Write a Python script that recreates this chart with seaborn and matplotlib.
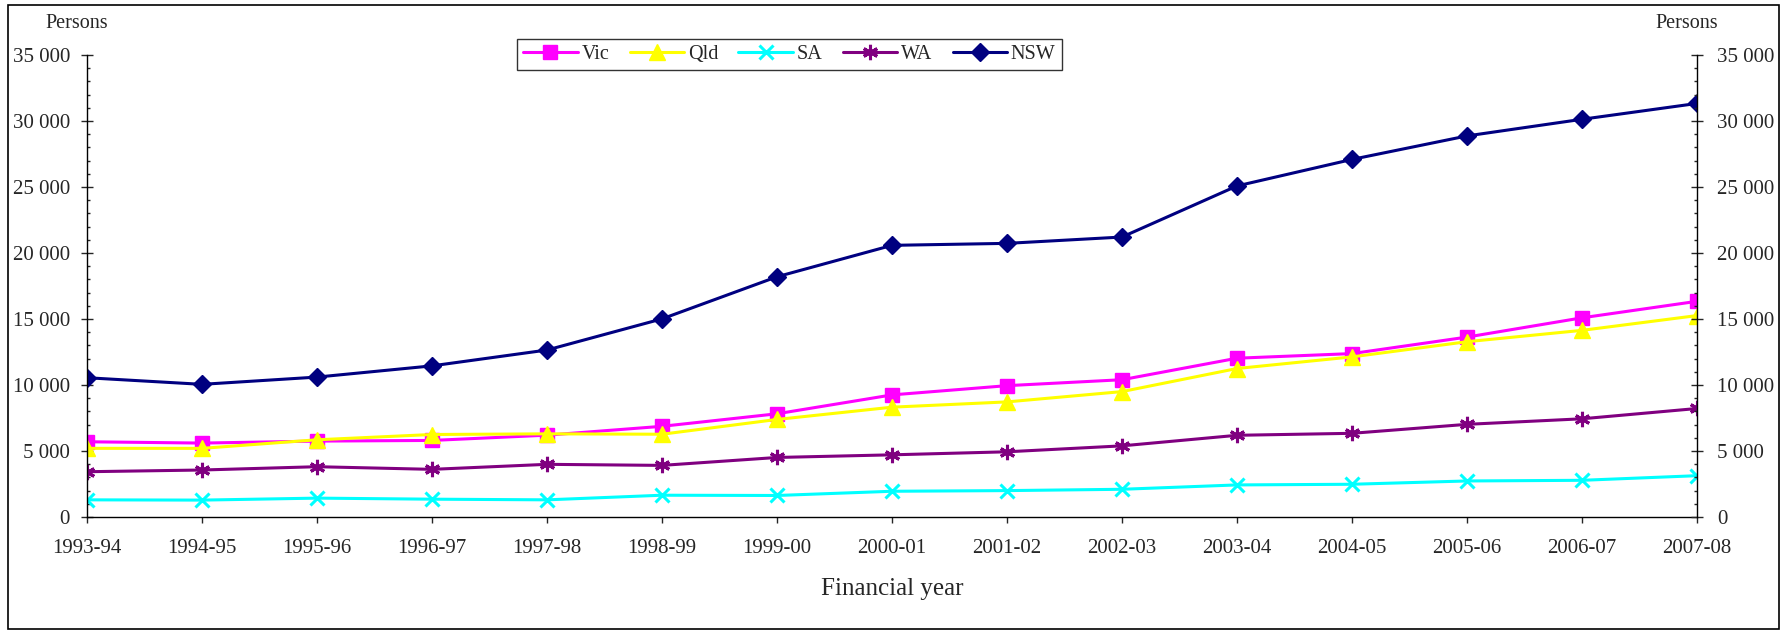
import pandas as pd
import numpy as np
import matplotlib.pyplot as plt
import seaborn as sns
from matplotlib.ticker import MultipleLocator, FuncFormatter
from matplotlib.patches import Rectangle

# data
years = ["1993-94", "1994-95", "1995-96", "1996-97", "1997-98", "1998-99", "1999-00",
         "2000-01", "2001-02", "2002-03", "2003-04", "2004-05", "2005-06", "2006-07", "2007-08"]
vic = [5700, 5600, 5750, 5800, 6200, 6870, 7820, 9250, 9950, 10400, 12030, 12380, 13630, 15090, 16340]
qld = [5200, 5200, 5850, 6250, 6300, 6270, 7390, 8320, 8720, 9500, 11250, 12130, 13280, 14140, 15260]
sa = [1300, 1280, 1430, 1350, 1300, 1650, 1630, 1950, 2000, 2100, 2430, 2480, 2730, 2780, 3130]
wa = [3430, 3560, 3810, 3610, 3990, 3910, 4510, 4710, 4940, 5390, 6190, 6340, 7020, 7440, 8220]
nsw = [10550, 10050, 10600, 11450, 12650, 15010, 18200, 20580, 20730, 21210, 25080, 27090, 28870, 30130, 31330]

states = ["Vic", "Qld", "SA", "WA", "NSW"]
colours = {"Vic": "#FF00FF", "Qld": "#FFFF00", "SA": "#00FFFF", "WA": "#800080", "NSW": "#000080"}
markers = {"Vic": "s", "Qld": "^", "SA": "x", "WA": (6, 2, 0), "NSW": "D"}
msizes = {"Vic": 10, "Qld": 11, "SA": 10, "WA": 11, "NSW": 9}

df = pd.DataFrame({"year": years, "Vic": vic, "Qld": qld, "SA": sa, "WA": wa, "NSW": nsw})
df["pos"] = np.arange(len(years))
long = df.melt(id_vars=["year", "pos"], value_vars=states, var_name="state", value_name="persons")

sns.set_style("ticks")
plt.rcParams["font.family"] = ["Liberation Serif", "DejaVu Serif"]
plt.rcParams["font.size"] = 15

fig = plt.figure(figsize=(17.85, 6.3), dpi=100)
ax = fig.add_axes([87 / 1785, 1 - 517 / 630, 1610 / 1785, 462 / 630])

sns.lineplot(data=long, x="pos", y="persons", hue="state", hue_order=states,
             palette=colours, linewidth=2.2, legend=False, ax=ax)

# markers set afterwards (seaborn refuses to mix filled and line-art markers)
for line, st in zip(ax.lines, states):
    line.set_marker(markers[st])
    line.set_markeredgecolor(colours[st])
    line.set_markerfacecolor(colours[st])
    line.set_markersize(msizes[st])
    line.set_markeredgewidth(2.2 if st in ("SA", "WA") else 1)
    line.set_label(st)

ax.set_xlim(0, len(years) - 1)
ax.set_ylim(0, 35000)
ax.set_xticks(df["pos"])
ax.set_xticklabels(years, fontsize=15)
ax.set_xlabel("Financial year", fontsize=18, va="center")
ax.xaxis.set_label_coords(0.5, -0.156)
ax.set_ylabel("")

fmt = FuncFormatter(lambda v, p: f"{int(v):,}".replace(",", " "))

ax2 = ax.twinx()
ax2.set_ylim(0, 35000)
for a in (ax, ax2):
    a.yaxis.set_major_locator(MultipleLocator(5000))
    a.yaxis.set_minor_locator(MultipleLocator(1000))
    a.yaxis.set_major_formatter(fmt)
    a.tick_params(axis="y", which="major", direction="inout", length=8.5, width=1, labelsize=15)
    a.tick_params(axis="y", which="minor", direction="in", length=2.5, width=1)
    a.spines["top"].set_visible(False)
    for s in a.spines.values():
        s.set_color("black")
        s.set_linewidth(1)
ax.tick_params(axis="y", pad=8)
ax2.tick_params(axis="y", pad=10)
ax.tick_params(axis="x", direction="out", length=4, width=1, pad=12)
ax.spines["right"].set_visible(False)
ax2.spines["left"].set_visible(False)
ax2.spines["bottom"].set_visible(False)

leg = ax.legend(handles=ax.lines[:5], labels=states, loc="center", bbox_to_anchor=(0.4363, 1.001),
                ncol=5, frameon=True, fancybox=False, edgecolor="black", fontsize=14.5,
                handlelength=2.7, columnspacing=1.0, handletextpad=0.2, borderpad=0.3)
leg.get_frame().set_linewidth(1)
leg.set_zorder(10)

fig.text(77 / 1785, 1 - 24 / 630, "Persons", ha="center", va="center", fontsize=14.5)
fig.text(1687 / 1785, 1 - 23 / 630, "Persons", ha="center", va="center", fontsize=14.5)

fig.patches.append(Rectangle((8 / 1785, 0.002), 1771 / 1785, 1 - 5 / 630 - 0.002, transform=fig.transFigure,
                             fill=False, edgecolor="black", linewidth=1.2))

fig.savefig("out.png", dpi=100)
